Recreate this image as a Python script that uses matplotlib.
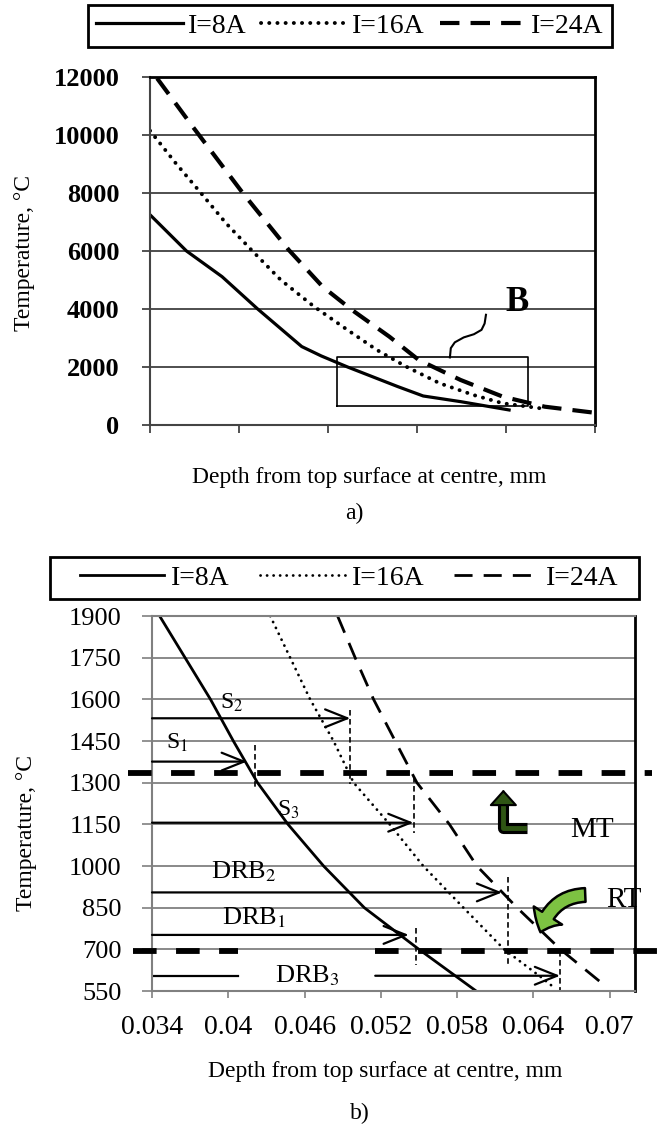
import numpy as np
import matplotlib
matplotlib.use("Agg")
import matplotlib.pyplot as plt
from matplotlib.patches import FancyArrowPatch, Rectangle

plt.rcParams['font.family'] = ['Liberation Serif', 'DejaVu Serif']
plt.rcParams['mathtext.fontset'] = 'stix'
plt.rcParams['lines.scale_dashes'] = False

# ---- panel a data (depth axis has no labels in the source) ----
a_x8 = [0.0, 0.0082, 0.0162, 0.0242, 0.0341, 0.0385, 0.0444, 0.0557, 0.0614, 0.0698, 0.0807]
a_y8 = [7250, 6000, 5114, 4000, 2704, 2380, 2000, 1323, 1000, 805, 518]
a_x16 = [0.0, 0.0058, 0.0115, 0.0171, 0.0228, 0.0294, 0.0369, 0.0444, 0.0510, 0.0576,
         0.0651, 0.0727, 0.0793, 0.0877]
a_y16 = [10150, 9024, 7989, 6955, 6034, 5000, 4079, 3276, 2586, 2010, 1438, 1034, 748, 576]
a_x24 = [0.0016, 0.0096, 0.0209, 0.0312, 0.0388, 0.0454, 0.0538, 0.0604, 0.0698, 0.0793,
         0.0887, 0.1]
a_y24 = [11954, 10287, 7989, 6034, 4769, 3965, 3045, 2241, 1552, 976, 631, 420]
a_yticks = [0, 2000, 4000, 6000, 8000, 10000, 12000]
a_xticks = [0.0, 0.02, 0.04, 0.06, 0.08, 0.1]
box_b = [0.042, 0.085, 655, 2330]   # x0, x1, y0, y1
brace_x = [0.0674, 0.0676, 0.0685, 0.0705, 0.0728, 0.0745, 0.0752, 0.0755]
brace_y = [2330, 2650, 2850, 3020, 3130, 3280, 3500, 3800]

# ---- panel b data ----
b_y_lev = [1900, 1750, 1600, 1450, 1300, 1150, 1000, 850, 700, 550]
b_x8 = [0.0346, 0.0366, 0.0386, 0.0404, 0.0423, 0.0447, 0.0475, 0.0507, 0.0550, 0.0595]
b_x16 = [0.0433, 0.04487, 0.04644, 0.04828, 0.04986, 0.0527, 0.05534, 0.0585, 0.0617, 0.0646,
         0.0657]
b_y16 = [1900, 1750, 1600, 1450, 1300, 1150, 1000, 850, 700, 600, 560]
b_x24 = [0.0486, 0.04998, 0.05143, 0.05313, 0.05484, 0.0574, 0.05956, 0.06272, 0.06613, 0.0698]
b_y24 = [1900, 1750, 1600, 1450, 1300, 1150, 1000, 850, 700, 563]
b_yticks = [550, 700, 850, 1000, 1150, 1300, 1450, 1600, 1750, 1900]
b_xticks = [0.034, 0.04, 0.046, 0.052, 0.058, 0.064, 0.07]
b_xticklabels = ['0.034', '0.04', '0.046', '0.052', '0.058', '0.064', '0.07']

# annotation arrows
arr_names = ['S$_2$', 'S$_1$', 'S$_3$', 'DRB$_2$', 'DRB$_1$']
arr_y = [1532, 1376, 1156, 905, 752]
arr_tip = [0.0496, 0.04146, 0.05457, 0.06154, 0.0542]
vdash_x = [0.0496, 0.0421, 0.0546, 0.0620, 0.05476]
vdash_top = [1562, 1436, 1321, 962, 777]
vdash_bot = [1295, 1274, 1120, 647, 644]
lab_x = [0.0403, 0.0360, 0.0447, 0.0412, 0.0420]
lab_y = [1586, 1445, 1202, 980, 813]
drb3_y = 605
drb3_gap = [0.0408, 0.05156]
drb3_tip = 0.0661
drb3_vx = 0.0661
mt_level = 1335
rt_level = 693

fig = plt.figure(figsize=(6.57, 11.24), dpi=100)

# ================= panel a =================
ax = fig.add_axes([0.2283, 0.6219, 0.6773, 0.3096])
l1, = ax.plot(a_x8, a_y8, color='black', lw=2.3, label='I=8A')
l2, = ax.plot(a_x16, a_y16, color='black', lw=2.8, linestyle=(0, (0.1, 5.8)),
              dash_capstyle='round', label='I=16A')
l3, = ax.plot(a_x24, a_y24, color='black', lw=3.0, linestyle=(0, (14, 8)), label='I=24A')
ax.set_xlim(0, 0.1)
ax.set_ylim(0, 12000)
ax.set_yticks(a_yticks)
ax.set_yticklabels([str(v) for v in a_yticks], fontsize=19, fontweight='bold')
ax.set_xticks(a_xticks)
ax.set_xticklabels([])
ax.yaxis.grid(True, color='#404040', lw=1.3)
ax.set_axisbelow(True)
ax.tick_params(axis='y', length=6, width=1.2, pad=16, colors='#333333', labelcolor='black')
ax.tick_params(axis='x', length=6, width=1.2, direction='out', colors='#333333')
for s in ['top', 'right']:
    ax.spines[s].set_color('black')
    ax.spines[s].set_linewidth(2)
for s in ['left', 'bottom']:
    ax.spines[s].set_color('#444444')
    ax.spines[s].set_linewidth(1.5)
ax.plot([box_b[0], box_b[1], box_b[1], box_b[0], box_b[0]],
        [box_b[2], box_b[2], box_b[3], box_b[3], box_b[2]], color='black', lw=1.2)
ax.plot(brace_x, brace_y, color='black', lw=1.5)
ax.text(0.0825, 4240, 'B', fontsize=25, fontweight='bold', ha='center', va='center')

leg = fig.legend(handles=[l1, l2, l3], loc='center', bbox_to_anchor=(350 / 657, 1 - 26 / 1124),
                 ncol=3, fontsize=20, handlelength=3.1, handletextpad=0.18, columnspacing=0.54,
                 fancybox=False, edgecolor='black', borderpad=0.3, framealpha=1)
leg.get_frame().set_linewidth(2)

fig.text(369 / 657, 1 - 477 / 1124, 'Depth from top surface at centre, mm', fontsize=17,
         ha='center', va='center')
fig.text(354 / 657, 1 - 513 / 1124, 'a)', fontsize=17, ha='center', va='center')
fig.text(25 / 657, 1 - 253 / 1124, 'Temperature, \u00b0C', fontsize=17, rotation=90,
         ha='center', va='center')

# ================= panel b =================
bx = fig.add_axes([0.2314, 0.1183, 0.7352, 0.3336])
m1, = bx.plot(b_x8, b_y_lev, color='black', lw=2.0, label='I=8A')
m2, = bx.plot(b_x16, b_y16, color='black', lw=2.0, linestyle=(0, (0.1, 4.6)),
              dash_capstyle='round', label='I=16A')
m3, = bx.plot(b_x24, b_y24, color='black', lw=2.0, linestyle=(0, (13, 8)), label='I=24A')
bx.set_xlim(0.034, 0.072)
bx.set_ylim(550, 1900)
bx.set_yticks(b_yticks)
bx.set_yticklabels([str(v) for v in b_yticks], fontsize=19)
bx.set_xticks(b_xticks)
bx.set_xticklabels(b_xticklabels, fontsize=20)
bx.yaxis.grid(True, color='#808080', lw=1.3)
bx.set_axisbelow(True)
bx.tick_params(axis='y', length=7, width=1.2, pad=15, colors='#808080', labelcolor='black')
bx.tick_params(axis='x', length=5, width=1.2, pad=12, colors='#808080', labelcolor='black')
for s in ['top', 'left', 'bottom']:
    bx.spines[s].set_color('#808080')
    bx.spines[s].set_linewidth(1.5)
bx.spines['right'].set_color('black')
bx.spines['right'].set_linewidth(2)

ap = dict(arrowstyle='->,head_length=0.8,head_width=0.32', lw=1.6, color='black',
          shrinkA=0, shrinkB=0, mutation_scale=20)
for name, y, tip, vx, vt, vb, lx, ly in zip(arr_names, arr_y, arr_tip, vdash_x, vdash_top,
                                            vdash_bot, lab_x, lab_y):
    bx.annotate('', xy=(tip, y), xytext=(0.034, y), arrowprops=ap)
    bx.plot([vx, vx], [vt, vb], color='black', lw=1.2, linestyle=(0, (4, 2.5)))
    fs = 17 if name.startswith('S') else 19
    bx.text(lx, ly, name, fontsize=fs, ha='center', va='center')

# DRB3 arrow with a gap for its label
bx.plot([0.034, drb3_gap[0]], [drb3_y, drb3_y], color='black', lw=1.6)
bx.annotate('', xy=(drb3_tip, drb3_y), xytext=(drb3_gap[1], drb3_y), arrowprops=ap)
bx.text(0.0462, drb3_y, 'DRB$_3$', fontsize=19, ha='center', va='center')
bx.plot([drb3_vx, drb3_vx], [rt_level, 550], color='black', lw=1.2, linestyle=(0, (4, 2.5)))

# melting / recrystallisation temperature levels
bx.plot([0.0321, 0.0733], [mt_level, mt_level], color='black', lw=4.2,
        linestyle=(0, (17, 14)), clip_on=False, zorder=5)
bx.plot([0.0325, drb3_gap[0]], [rt_level, rt_level], color='black', lw=4.2,
        linestyle=(0, (17, 14)), clip_on=False, zorder=5)
bx.plot([drb3_gap[1], 0.0738], [rt_level, rt_level], color='black', lw=4.2,
        linestyle=(0, (17, 14)), clip_on=False, zorder=5)

# MT bent arrow (up)
mt_green = '#2f5514'
bx.plot([0.0635, 0.06164, 0.06164], [1137, 1137, 1245], color='black', lw=8,
        solid_joinstyle='round', solid_capstyle='butt', zorder=6)
bx.plot([0.0633, 0.06164, 0.06164], [1137, 1137, 1245], color=mt_green, lw=3.5,
        solid_joinstyle='round', zorder=7)
bx.annotate('', xy=(0.06164, 1285), xytext=(0.06164, 1240),
            arrowprops=dict(arrowstyle='-|>,head_width=0.45,head_length=0.5', fc=mt_green,
                            ec='black', lw=1.5, mutation_scale=20), zorder=8)
bx.text(0.0686, 1130, 'MT', fontsize=21, ha='center', va='center')

# RT curved arrow (down-left)
rt = FancyArrowPatch((0.0683, 896), (0.0645, 752),
                     connectionstyle='angle3,angleA=180,angleB=75',
                     arrowstyle='simple,head_width=1.1,head_length=0.6,tail_width=0.45',
                     mutation_scale=22, fc='#7dc242', ec='black', lw=1.8, zorder=8)
bx.add_patch(rt)
bx.text(0.0711, 878, 'RT', fontsize=21, ha='center', va='center', clip_on=False)

leg2 = fig.legend(handles=[m1, m2, m3], loc='center', bbox_to_anchor=(349 / 657, 1 - 578 / 1124),
                  ncol=3, fontsize=20, handlelength=3.05, handletextpad=0.25, columnspacing=1.08,
                  frameon=False, borderpad=0.3)
fig.patches.append(Rectangle((50 / 657, 1 - 599 / 1124), 589 / 657, 42 / 1124,
                             transform=fig.transFigure, fill=False, ec='black', lw=2))

fig.text(385 / 657, 1 - 1072 / 1124, 'Depth from top surface at centre, mm', fontsize=17,
         ha='center', va='center')
fig.text(360 / 657, 1 - 1113 / 1124, 'b)', fontsize=17, ha='center', va='center')
fig.text(27 / 657, 1 - 833 / 1124, 'Temperature, \u00b0C', fontsize=17, rotation=90,
         ha='center', va='center')

fig.savefig('out.png', dpi=100)
